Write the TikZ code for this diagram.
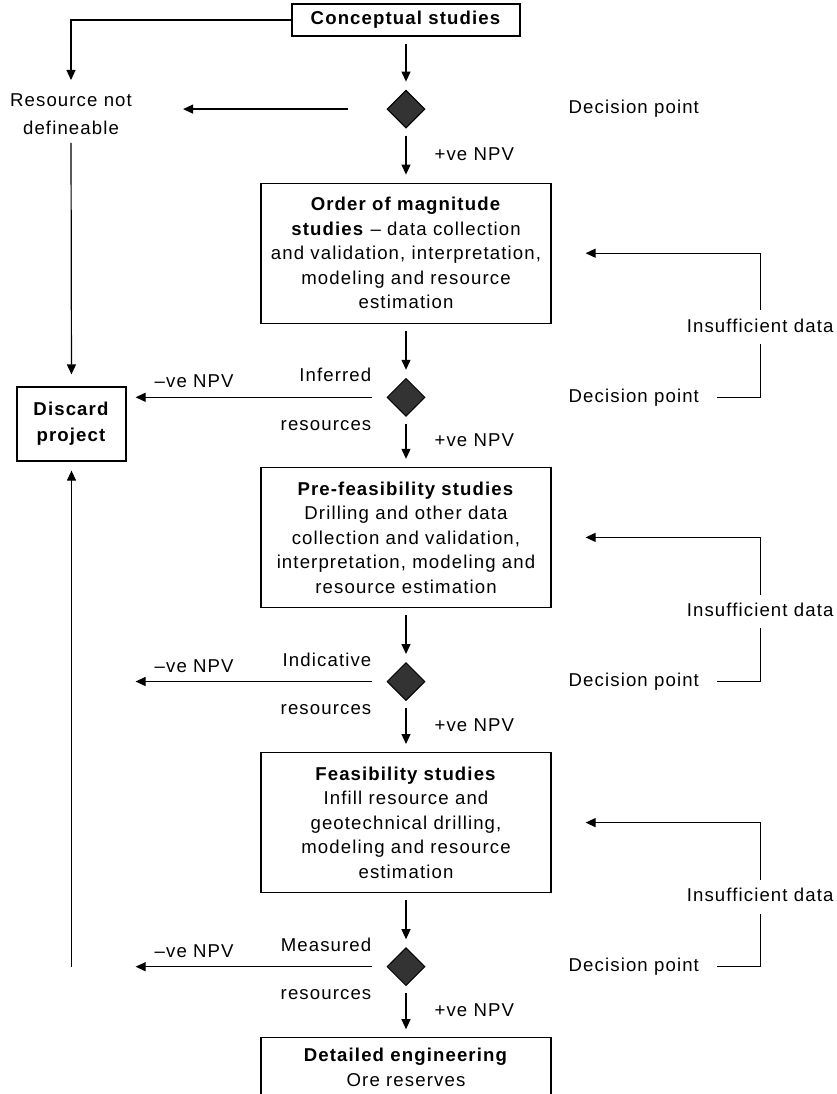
\documentclass[tikz,border=0pt]{standalone}
\usepackage{fontspec}
\setmainfont{Liberation Sans}[LetterSpace=6]
\usepackage{tikz}
\usetikzlibrary{shapes.geometric,arrows.meta,positioning}
\definecolor{gatefill}{HTML}{333333}
\newcommand{\figfont}{\fontsize{18.6}{24.5}\selectfont}
\tikzstyle{stage} = [rectangle, draw=black, line width=1.2pt, minimum width=290pt,
    minimum height=140pt, align=center, inner sep=0pt, font=\figfont]
\tikzstyle{gate} = [diamond, draw=black, fill=gatefill, line width=1pt,
    minimum width=38pt, minimum height=38pt, inner sep=0pt]
\tikzstyle{lbl} = [inner sep=0pt, text height=13.4pt, text depth=3.9pt, font=\figfont]
\tikzstyle{note} = [inner sep=0pt, align=center, font=\figfont]
\tikzstyle{arrow} = [-{Triangle[length=10pt,width=9pt]}, line width=1.2pt]
\tikzstyle{link} = [line width=1.2pt]
\tikzstyle{vstep} = [arrow, shorten <=7pt, shorten >=8pt]

\begin{document}
\begin{tikzpicture}[x=1pt, y=1pt, node distance=54pt]
\useasboundingbox (0,0) rectangle (836,-1094);
\clip (0,0) rectangle (836,-1094);

\node[stage, minimum width=228pt, minimum height=32pt] (concept) at (406,-20) {\textbf{Conceptual studies}};
\node[gate, below=53pt of concept] (d1) {};
\node[stage, below=54pt of d1] (mag) {\textbf{Order of magnitude}\\\textbf{studies} -- data collection\\and validation, interpretation,\\modeling and resource\\estimation};
\node[gate, below=54pt of mag] (d2) {};
\node[stage, below=50pt of d2] (pre) {\textbf{Pre-feasibility studies}\\Drilling and other data\\collection and validation,\\interpretation, modeling and\\resource estimation};
\node[gate, below=54pt of pre] (d3) {};
\node[stage, below=51pt of d3] (feas) {\textbf{Feasibility studies}\\Infill resource and\\geotechnical drilling,\\modeling and resource\\estimation};
\node[gate, below=54pt of feas] (d4) {};
\node[stage, minimum height=59pt, below=51pt of d4] (detail) {\textbf{Detailed engineering}\\Ore reserves};

\node[stage, minimum width=109pt, minimum height=74pt] (discard) at (71.5,-424) {\textbf{Discard}\\[1.5pt]\textbf{project}};
\node[note, anchor=north] (undef) at (71,-94) {Resource not\\[3pt]defineable};

\node[lbl, right=143pt of d1] (dp1) {Decision point};
\node[lbl, right=143pt of d2] (dp2) {Decision point};
\node[lbl, right=143pt of d3] (dp3) {Decision point};
\node[lbl, right=143pt of d4] (dp4) {Decision point};
\node[lbl] (ins2) at ([shift={(61pt,70pt)}]dp2.east) {Insufficient data};
\node[lbl] (ins3) at ([shift={(61pt,70pt)}]dp3.east) {Insufficient data};
\node[lbl] (ins4) at ([shift={(61pt,70pt)}]dp4.east) {Insufficient data};

\node[lbl, above left=11.4pt and 15pt of d2.west] (inf2) {Inferred};
\node[lbl, below left=19.6pt and 15pt of d2.west] (res2) {resources};
\node[lbl, above left=11.4pt and 15pt of d3.west] (inf3) {Indicative};
\node[lbl, below left=19.6pt and 15pt of d3.west] (res3) {resources};
\node[lbl, above left=11.4pt and 15pt of d4.west] (inf4) {Measured};
\node[lbl, below left=19.6pt and 15pt of d4.west] (res4) {resources};

\draw[vstep] (concept) -- (d1);
\draw[vstep] (d1) -- node[lbl, right=28pt] {+ve NPV} (mag);
\draw[vstep] (mag) -- (d2);
\draw[vstep] (d2) -- node[lbl, right=28pt] {+ve NPV} (pre);
\draw[vstep] (pre) -- (d3);
\draw[vstep] (d3) -- node[lbl, right=28pt] {+ve NPV} (feas);
\draw[vstep] (feas) -- (d4);
\draw[vstep] (d4) -- node[lbl, right=28pt] {+ve NPV} (detail);

\draw[arrow, shorten >=14pt] (concept.west) -| (undef.north);
\draw[arrow, shorten <=39pt, shorten >=51pt] (d1.west) -- (d1 -| undef.east);
\draw[arrow, shorten <=8pt, shorten >=12pt] (undef.south) -- (discard.north);
\draw[arrow, shorten <=15pt, shorten >=9pt] (d2.west) -- node[lbl, above=5pt, pos=0.74] {--ve NPV} (d2 -| discard.east);
\draw[arrow, shorten <=15pt, shorten >=9pt] (d3.west) -- node[lbl, above=5pt, pos=0.74] {--ve NPV} (d3 -| discard.east);
\draw[arrow, shorten <=15pt, shorten >=9pt] (d4.west) -- node[lbl, above=5pt, pos=0.74] {--ve NPV} (d4 -| discard.east);
\draw[arrow, shorten >=9pt] (d4 -| discard) -- (discard.south);

\draw[link, shorten <=18pt, shorten >=8pt] (dp2.east) -| (ins2.south);
\draw[arrow, shorten <=8pt, shorten >=34pt] (ins2.north) |- (mag.east);
\draw[link, shorten <=18pt, shorten >=8pt] (dp3.east) -| (ins3.south);
\draw[arrow, shorten <=8pt, shorten >=34pt] (ins3.north) |- (pre.east);
\draw[link, shorten <=18pt, shorten >=8pt] (dp4.east) -| (ins4.south);
\draw[arrow, shorten <=8pt, shorten >=34pt] (ins4.north) |- (feas.east);
\end{tikzpicture}
\end{document}
